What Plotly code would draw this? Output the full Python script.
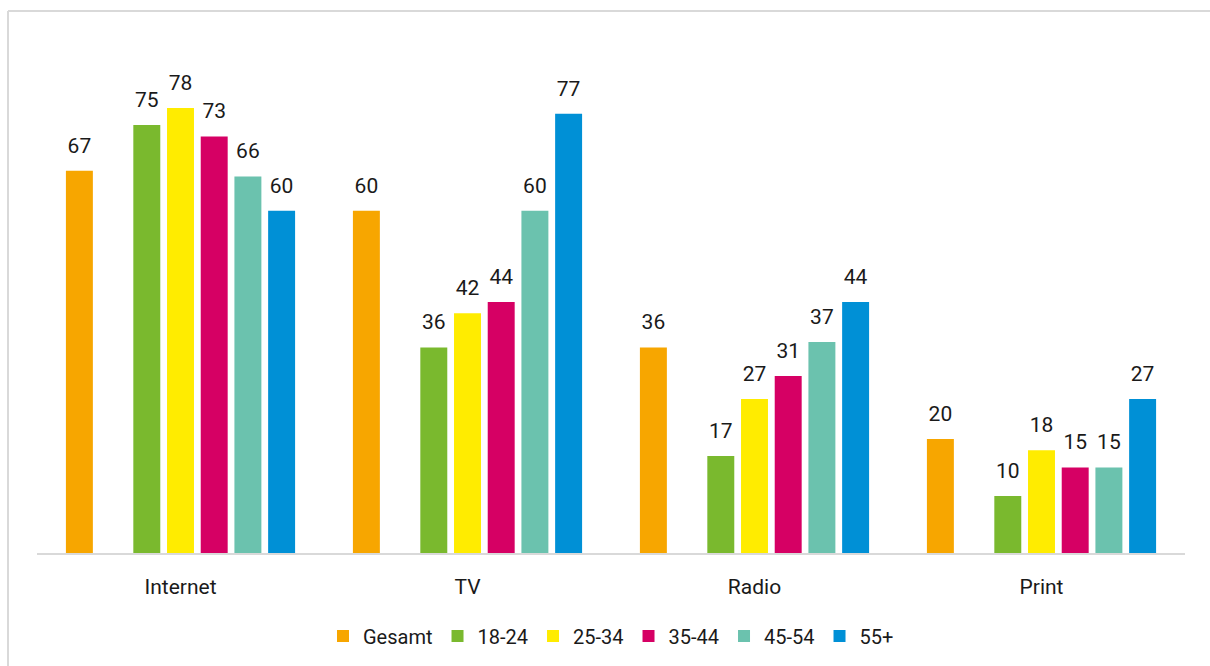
import plotly.graph_objects as go

categories = ["Internet", "TV", "Radio", "Print"]
series_names = ["Gesamt", "18-24", "25-34", "35-44", "45-54", "55+"]
gesamt = [67, 60, 36, 20]
age_18_24 = [75, 36, 17, 10]
age_25_34 = [78, 42, 27, 18]
age_35_44 = [73, 44, 31, 15]
age_45_54 = [66, 60, 37, 15]
age_55_plus = [60, 77, 44, 27]
colors = ["#F7A600", "#7AB92E", "#FFEC00", "#D60064", "#6BC2AE", "#0090D6"]

values = [gesamt, age_18_24, age_25_34, age_35_44, age_45_54, age_55_plus]

FONT = "Roboto, Arial, sans-serif"
TXT = "#1A1A1A"

fig = go.Figure()
# slot order: Gesamt, (empty spacer), then age groups
order = [("Gesamt", gesamt, colors[0]), (None, None, None)] + list(
    zip(series_names[1:], values[1:], colors[1:]))

for i, (name, vals, col) in enumerate(order):
    og = str(i)
    if name is None:
        fig.add_trace(go.Bar(x=categories, y=[None] * 4, showlegend=False,
                             offsetgroup=og, hoverinfo="skip"))
        fig.add_trace(go.Scatter(x=categories, y=[None] * 4, mode="markers",
                                 showlegend=False, offsetgroup=og, hoverinfo="skip"))
        continue
    fig.add_trace(go.Bar(x=categories, y=vals, name=name, marker_color=col,
                         marker_line_width=0, offsetgroup=og))
    fig.add_trace(go.Scatter(x=categories, y=vals, mode="markers+text",
                             text=[str(v) for v in vals], textposition="top center",
                             textfont=dict(family=FONT, size=21, color=TXT),
                             marker=dict(size=19, opacity=0), showlegend=False,
                             offsetgroup=og, hoverinfo="skip", cliponaxis=False))

W, H = 1210, 666
ml, mr, mt, mb = 37, 25, 68, 113
pw, ph = W - ml - mr, H - mt - mb

def px_x(p):
    return (p - ml) / pw

def px_y(p):
    return (mt + ph - p) / ph

fig.update_layout(
    width=W, height=H,
    barmode="group", scattermode="group",
    bargap=0.178, bargroupgap=0.2, scattergap=0.178,
    plot_bgcolor="white", paper_bgcolor="white",
    margin=dict(l=ml, r=mr, t=mt, b=mb, autoexpand=False),
    font=dict(family=FONT, size=20, color=TXT),
    showlegend=True,
    legend=dict(orientation="h", x=0.5, xanchor="center", y=px_y(636), yanchor="middle",
                font=dict(family=FONT, size=20, color=TXT), traceorder="normal",
                itemwidth=30),
    xaxis=dict(showline=True, linecolor="#D9D9D9", linewidth=2, showgrid=False,
               ticks="outside", ticklen=14, tickcolor="rgba(0,0,0,0)", automargin=False,
               tickfont=dict(family=FONT, size=21, color=TXT), zeroline=False),
    yaxis=dict(range=[0, 85], visible=False, showgrid=False, zeroline=False),
    shapes=[
        dict(type="line", xref="paper", yref="paper",
             x0=px_x(8), x1=px_x(8), y0=px_y(H + 10), y1=px_y(11),
             line=dict(color="#D9D9D9", width=2), layer="below"),
        dict(type="line", xref="paper", yref="paper",
             x0=px_x(8), x1=px_x(W + 10), y0=px_y(11), y1=px_y(11),
             line=dict(color="#D9D9D9", width=2), layer="below"),
    ],
)

fig.write_html("out.html", config={"displayModeBar": False},
               post_script="document.body.style.margin='0';document.body.style.overflow='hidden';")
